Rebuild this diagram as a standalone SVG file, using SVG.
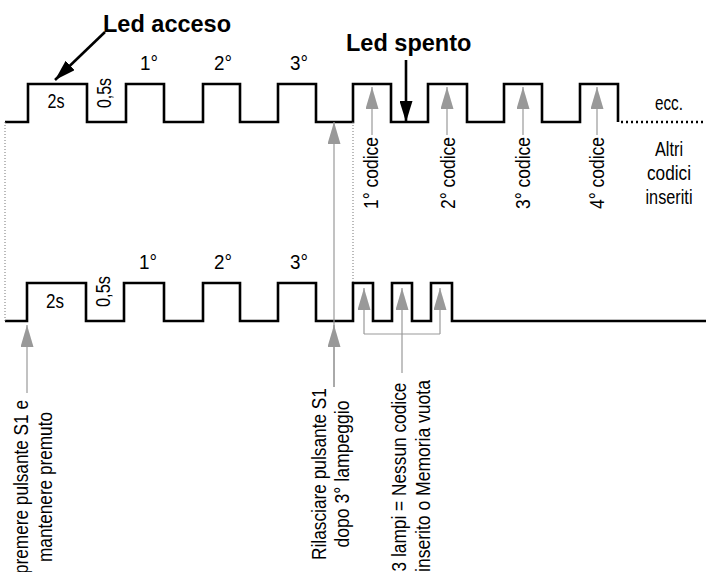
<svg xmlns="http://www.w3.org/2000/svg" width="706" height="572" viewBox="0 0 706 572">
<style>
.wave{fill:none;stroke:#000;stroke-width:2.6;stroke-linejoin:miter}
.dotv{fill:none;stroke:#777;stroke-width:1;stroke-dasharray:1,2}
.dotk{fill:none;stroke:#000;stroke-width:2.4;stroke-dasharray:2,3}
.garr{fill:none;stroke:#999;stroke-width:1.2;marker-end:url(#gh)}
.gl{fill:none;stroke:#999;stroke-width:1.2}
.karr{fill:none;stroke:#000;stroke-width:2.6;marker-end:url(#kh)}
text{font-family:"Liberation Sans",Arial,Helvetica,sans-serif;font-size:20.5px;fill:#000}
.b{font-weight:bold;font-size:23.5px}
.m{text-anchor:middle}
</style>
<defs>
<marker id="gh" viewBox="0 0 22 13" refX="22" refY="6.5" markerWidth="22" markerHeight="13" markerUnits="userSpaceOnUse" orient="auto">
<path d="M0,0 L22,6.5 L0,13 z" fill="#999"/>
</marker>
<marker id="kh" viewBox="0 0 21 13" refX="21" refY="6.5" markerWidth="21" markerHeight="13" markerUnits="userSpaceOnUse" orient="auto">
<path d="M0,0 L21,6.5 L0,13 z" fill="#000"/>
</marker>
</defs>

<g id="top-wave">
<path class="wave" d="M5,122 H28 V84 H87 V122 H126 V84 H164 V122 H203 V84 H240 V122 H278 V84 H316 V122 H353 V84 H391 V122 H428 V84 H467 V122 H504 V84 H542 V122 H580 V84 H618 V122"/>
<path class="dotk" d="M621,122 H706"/>
<text class="m" x="56" y="108" textLength="17" lengthAdjust="spacingAndGlyphs">2s</text>
<text transform="translate(111,108) rotate(-90)" textLength="30" lengthAdjust="spacingAndGlyphs">0,5s</text>
<text class="m" x="149" y="70" textLength="18" lengthAdjust="spacingAndGlyphs">1°</text>
<text class="m" x="223" y="70" textLength="18" lengthAdjust="spacingAndGlyphs">2°</text>
<text class="m" x="299" y="70" textLength="18" lengthAdjust="spacingAndGlyphs">3°</text>
<text class="m" x="669" y="110" textLength="28" lengthAdjust="spacingAndGlyphs">ecc.</text>
</g>

<g id="bottom-wave">
<path class="wave" d="M5,321 H27 V283 H86 V321 H124 V283 H164 V321 H203 V283 H240 V321 H278 V283 H316 V321 H353 V283 H373 V321 H392 V283 H412 V321 H431 V283 H452 V321 H706"/>
<text class="m" x="55" y="307.5" textLength="18" lengthAdjust="spacingAndGlyphs">2s</text>
<text transform="translate(110,307) rotate(-90)" textLength="31" lengthAdjust="spacingAndGlyphs">0,5s</text>
<text class="m" x="148" y="269" textLength="18" lengthAdjust="spacingAndGlyphs">1°</text>
<text class="m" x="223" y="269" textLength="18" lengthAdjust="spacingAndGlyphs">2°</text>
<text class="m" x="299" y="269" textLength="18" lengthAdjust="spacingAndGlyphs">3°</text>
</g>

<g id="led-acceso">
<text class="b" x="103" y="32">Led acceso</text>
</g>
<g id="led-spento">
<text class="b" x="346" y="51">Led spento</text>
</g>

<g id="codici-labels">
<text transform="translate(378,209) rotate(-90)" textLength="72" lengthAdjust="spacingAndGlyphs">1° codice</text>
<text transform="translate(455,209) rotate(-90)" textLength="72" lengthAdjust="spacingAndGlyphs">2° codice</text>
<text transform="translate(530,209) rotate(-90)" textLength="72" lengthAdjust="spacingAndGlyphs">3° codice</text>
<text transform="translate(604,209) rotate(-90)" textLength="72" lengthAdjust="spacingAndGlyphs">4° codice</text>
</g>

<g id="altri-codici">
<text class="m" x="669" y="156" textLength="28" lengthAdjust="spacingAndGlyphs">Altri</text>
<text class="m" x="669" y="180" textLength="44" lengthAdjust="spacingAndGlyphs">codici</text>
<text class="m" x="669" y="204" textLength="47" lengthAdjust="spacingAndGlyphs">inseriti</text>
</g>

<g id="premere">
<text class="m" transform="translate(28,487) rotate(-90)" textLength="174" lengthAdjust="spacingAndGlyphs">premere pulsante S1 e</text>
<text class="m" transform="translate(52,487) rotate(-90)" textLength="150" lengthAdjust="spacingAndGlyphs">mantenere premuto</text>
</g>

<g id="rilasciare">
<text class="m" transform="translate(326,474) rotate(-90)" textLength="172" lengthAdjust="spacingAndGlyphs">Rilasciare pulsante S1</text>
<text class="m" transform="translate(349,474) rotate(-90)" textLength="147" lengthAdjust="spacingAndGlyphs">dopo 3° lampeggio</text>
</g>

<g id="tre-lampi">
<text class="m" transform="translate(406,477) rotate(-90)" textLength="189" lengthAdjust="spacingAndGlyphs">3 lampi = Nessun codice</text>
<text class="m" transform="translate(430,476) rotate(-90)" textLength="192" lengthAdjust="spacingAndGlyphs">inserito o Memoria vuota</text>
</g>

<g id="connectors">
<path class="dotv" d="M5,122 V321"/>
<path class="dotv" d="M353,122 V283"/>
<path class="karr" d="M105,32 L55,80"/>
<path class="karr" d="M406,60 V122"/>
<path class="garr" d="M372,135 V87"/>
<path class="garr" d="M447,135 V87"/>
<path class="garr" d="M523,135 V87"/>
<path class="garr" d="M597,135 V87"/>
<path class="garr" d="M334,387 V122"/>
<path class="garr" d="M334,387 V325"/>
<path class="garr" d="M27,393 V325"/>
<path class="gl" d="M364,334 H440"/>
<path class="garr" d="M364,334 V288"/>
<path class="garr" d="M440,334 V288"/>
<path class="garr" d="M402,373 V288"/>
</g>
</svg>
